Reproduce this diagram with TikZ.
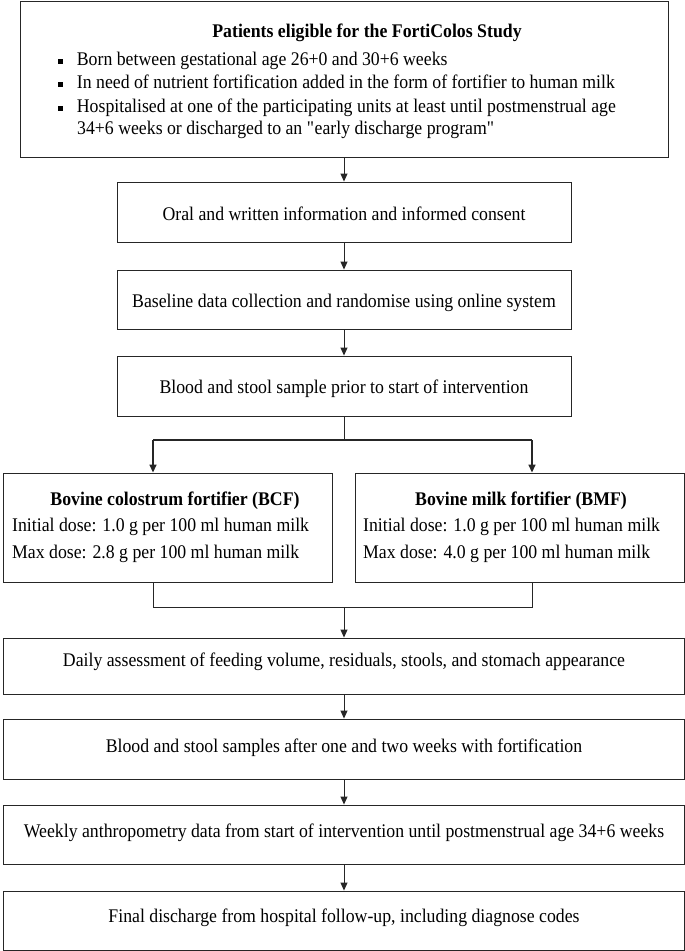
\documentclass[tikz,border=0pt]{standalone}
\usepackage{fontspec}
\setmainfont{Liberation Serif}[FakeStretch=0.92]
\usetikzlibrary{arrows.meta}
\begin{document}
\begin{tikzpicture}[x=1pt,y=-1pt,
  every node/.style={font=\fontsize{19.3}{22}\selectfont},
  box/.style={draw=black!85, line width=0.9pt, rectangle, inner sep=0pt, align=center},
  txt/.style={inner sep=0pt},
  conn/.style={draw=black!85, line width=0.9pt},
  arr/.style={conn, -{Triangle[length=8pt,width=7pt]}},
  heavy/.style={line width=1.5pt},
  bul/.style={txt, anchor=base west}]
\useasboundingbox (0,0) rectangle (685,951);
% top box
\node[box, minimum width=648pt, minimum height=156pt] (elig) at (344,79) {};
\node[txt, anchor=base] (title) at (367,37.5) {\bfseries Patients eligible for the FortiColos Study};
\node[bul] (i1) at (58,65.5) {\rule[1.7pt]{5pt}{5pt}\hspace{13.7pt}Born between gestational age 26+0 and 30+6 weeks};
\node[bul] (i2) at (58,88.5) {\rule[1.7pt]{5pt}{5pt}\hspace{13.7pt}In need of nutrient fortification added in the form of fortifier to human milk};
\node[bul] (i3) at (58,112.5) {\rule[1.7pt]{5pt}{5pt}\hspace{13.7pt}Hospitalised at one of the participating units at least until postmenstrual age};
\node[bul] (i4) at (77,134.5) {34+6 weeks or discharged to an \textquotedbl early discharge program\textquotedbl};
% middle boxes
\node[box, minimum width=454pt, minimum height=60pt, text height=18pt, text depth=2pt] (consent) at (344,212) {Oral and written information and informed consent};
\node[box, minimum width=454pt, minimum height=59pt, text height=17.5pt, text depth=2.5pt] (base) at (344,299.5) {Baseline data collection and randomise using online system};
\node[box, minimum width=454pt, minimum height=60pt, text height=17pt, text depth=3pt] (prior) at (344,386) {Blood and stool sample prior to start of intervention};
% arms
\node[box, minimum width=329pt, minimum height=109pt] (bcf) at (167.5,527.5) {};
\node[txt, anchor=base] (bcft) at (175,505.5) {\bfseries Bovine colostrum fortifier (BCF)};
\node[bul] (bcf1) at (12,531.5) {Initial dose: 1.0 g per 100 ml human milk};
\node[bul] (bcf2) at (12,558.5) {Max dose: 2.8 g per 100 ml human milk};
\node[box, minimum width=329pt, minimum height=109pt] (bmf) at (519.5,527.5) {};
\node[txt, anchor=base] (bmft) at (521,505.5) {\bfseries Bovine milk fortifier (BMF)};
\node[bul] (bmf1) at (363,531.5) {Initial dose: 1.0 g per 100 ml human milk};
\node[bul] (bmf2) at (363,558.5) {Max dose: 4.0 g per 100 ml human milk};
% bottom boxes
\node[box, minimum width=681pt, minimum height=56pt, text height=10pt, text depth=10pt] (daily) at (344,666) {Daily assessment of feeding volume, residuals, stools, and stomach appearance};
\node[box, minimum width=681pt, minimum height=60pt, text height=13pt, text depth=7pt] (samp) at (344,749) {Blood and stool samples after one and two weeks with fortification};
\node[box, minimum width=681pt, minimum height=59pt, text height=12.5pt, text depth=7.5pt] (week) at (344,834.5) {Weekly anthropometry data from start of intervention until postmenstrual age 34+6 weeks};
\node[box, minimum width=681pt, minimum height=59pt, text height=11.5pt, text depth=8.5pt] (final) at (344,920.5) {Final discharge from hospital follow-up, including diagnose codes};
% connectors
\coordinate (split) at (344,440);
\coordinate (splitL) at (153,440);
\coordinate (splitR) at (532,440);
\coordinate (mergeL) at (153,607);
\coordinate (mergeR) at (532,607);
\coordinate (merge) at (344,607);
\draw[arr] (elig.south) -- (consent.north);
\draw[arr] (consent.south) -- (base.north);
\draw[arr] (base.south) -- (prior.north);
\draw[conn] (prior.south) -- (split);
\draw[conn, heavy] (splitL) -- (splitR);
\draw[arr, heavy] (splitL) -- (splitL |- bcf.north);
\draw[arr, heavy] (splitR) -- (splitR |- bmf.north);
\draw[conn] (mergeL |- bcf.south) -- (mergeL) -- (mergeR) -- (mergeR |- bmf.south);
\draw[arr] (merge) -- (daily.north);
\draw[arr] (daily.south) -- (samp.north);
\draw[arr] (samp.south) -- (week.north);
\draw[arr] (week.south) -- (final.north);
\end{tikzpicture}
\end{document}
